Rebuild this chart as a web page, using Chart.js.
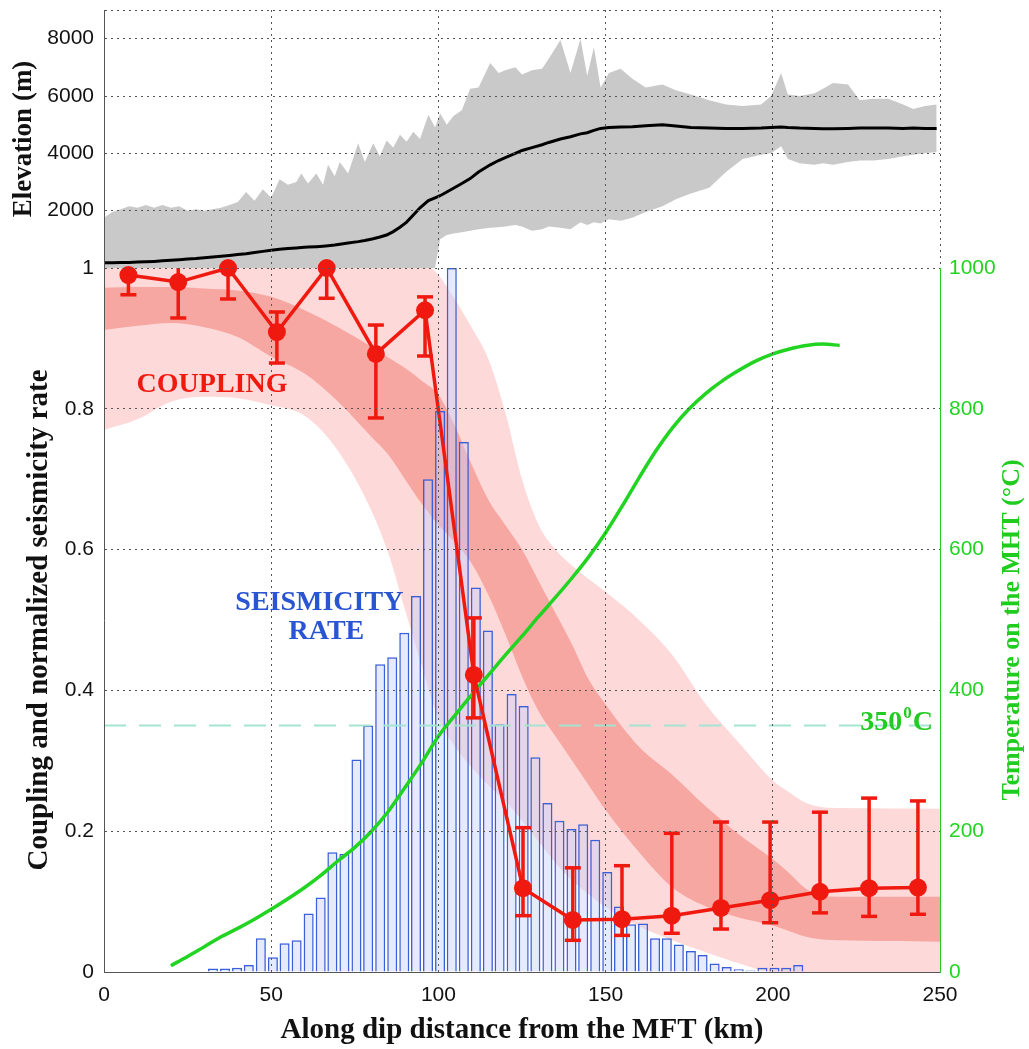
<!DOCTYPE html>
<html>
<head>
<meta charset="utf-8">
<title>Coupling, seismicity and temperature along dip</title>
<script src="https://cdn.jsdelivr.net/npm/chart.js@4.4.1/dist/chart.umd.min.js"></script>
<style>
  html, body { margin: 0; padding: 0; background: #fff; }
  #wrap { position: relative; width: 1029px; height: 1049px; }
  #wrap canvas { position: absolute; left: 0; top: 0; }
  #mainChart { z-index: 2; }
</style>
</head>
<body>
<div id="wrap">
  <canvas id="elevChart" width="1029" height="268"></canvas>
  <canvas id="mainChart" width="1029" height="1049"></canvas>
</div>
<script>
// ---- top panel: topography across the range (m)
const elevDist = [0, 2.5, 5, 7.5, 10, 12.5, 15, 17.5, 20, 22.5, 25, 27.5, 30, 32.5, 35, 37.5, 40, 42.5, 45, 47.5,
  50, 52.5, 55, 57.5, 59, 61, 63.5, 65.5, 67, 69, 70.5, 73, 76, 78, 80.5, 82.5, 84.5, 86.5, 88.5, 90.5,
  92.5, 94.5, 97, 99, 100.5, 102.5, 104.5, 107, 109.5, 112, 115.5, 118, 120, 123, 125, 128, 131, 133, 136.5, 139.5,
  142.5, 144.5, 146.5, 148.5, 151, 154.5, 158, 162, 167, 171, 175.5, 181, 186, 191, 196.5, 199.5, 202.5, 204.5, 208, 212.5,
  215, 218, 222.5, 226, 230, 234.5, 239, 242, 245.5, 249];
const elevMax = [1750, 1950, 2050, 2150, 2100, 2200, 2100, 2200, 2100, 2150, 2000, 2050, 2000, 2050, 2100, 2200, 2300, 2650, 2350, 2750,
  2450, 3100, 2900, 3000, 3300, 2950, 3300, 2900, 3600, 3200, 3700, 3300, 4350, 3700, 4350, 3900, 4450, 4200, 4650, 4400,
  4750, 4500, 5350, 4900, 5400, 5000, 5300, 5500, 6250, 6300, 7150, 6800, 6900, 7000, 6750, 6900, 6950, 7300, 7950, 6800,
  8000, 6700, 7700, 6300, 6800, 6950, 6600, 6300, 6400, 6200, 6050, 5850, 5700, 5650, 5700, 6000, 6800, 6050, 6000, 6100,
  6250, 6450, 6400, 5850, 5900, 5900, 5700, 5550, 5650, 5700];
const elevMin = [0, 0, 0, 0, 0, 0, 0, 0, 0, 0, 0, 0, 0, 0, 0, 0, 0, 0, 0, 0,
  0, 0, 0, 0, 0, 0, 0, 0, 0, 0, 0, 0, 0, 0, 0, 0, 0, 0, 0, 0,
  0, 0, 0, 0, 1000, 1150, 1200, 1250, 1300, 1350, 1400, 1420, 1450, 1500, 1450, 1300, 1350, 1450, 1400, 1350,
  1600, 1500, 1600, 1550, 1700, 1650, 1750, 1950, 2150, 2400, 2600, 2800, 3350, 3800, 3950, 4000, 4250, 3800, 3650, 3600,
  3650, 3600, 3700, 3750, 3750, 3800, 3900, 3950, 4000, 4050];
const elevMean = [180, 185, 190, 195, 205, 215, 230, 250, 270, 290, 310, 330, 360, 385, 410, 440, 470, 500, 540, 580,
  620, 650, 680, 700, 715, 730, 745, 760, 775, 800, 830, 870, 920, 960, 1020, 1080, 1150, 1270, 1420, 1600,
  1850, 2100, 2350, 2450, 2520, 2650, 2780, 2950, 3120, 3350, 3600, 3750, 3850, 4000, 4100, 4200, 4300, 4380, 4500, 4580,
  4680, 4720, 4800, 4870, 4900, 4920, 4930, 4960, 5000, 4950, 4900, 4880, 4870, 4870, 4880, 4900, 4920, 4900, 4880, 4870,
  4860, 4860, 4870, 4880, 4880, 4880, 4870, 4880, 4870, 4870];
const elevTicks = [0, 2000, 4000, 6000, 8000, 9000];

// ---- coupling (binned) with error bars
const couplingDist = [7.3, 22.2, 37.1, 51.7, 66.6, 81.3, 96.0, 110.6, 125.3, 140.2, 154.9, 169.8, 184.5, 199.2, 214.1, 228.8, 243.4];
const coupling = [0.99, 0.98, 1.0, 0.909, 1.0, 0.878, 0.94, 0.422, 0.119, 0.074, 0.075, 0.08, 0.091, 0.102, 0.114, 0.119, 0.12];
const couplingLow = [0.962, 0.929, 0.956, 0.865, 0.957, 0.787, 0.875, 0.361, 0.08, 0.045, 0.052, 0.055, 0.061, 0.07, 0.084, 0.079, 0.082];
const couplingHigh = [1.03, 1.03, 1.04, 0.9375, 1.04, 0.919, 0.959, 0.503, 0.205, 0.148, 0.151, 0.197, 0.213, 0.213, 0.227, 0.247, 0.243];

// ---- coupling model envelopes (outer = light, inner = dark)
const bandDist = [0, 10, 20, 30, 40, 50, 60, 70, 80, 85, 90, 95, 100, 105, 110, 115, 120, 125, 130, 135, 140, 145, 150,
  160, 170, 180, 190, 200, 205, 210, 215, 220, 250];
const outerTop = [1.02, 1.02, 1.02, 1.02, 1.02, 1.02, 1.02, 1.02, 1.02, 1.02, 1.02, 1.01, 0.99, 0.955, 0.915, 0.87, 0.795, 0.70, 0.635, 0.60, 0.577, 0.558, 0.54,
  0.50, 0.45, 0.38, 0.325, 0.272, 0.255, 0.24, 0.234, 0.233, 0.232];
const outerBottom = [0.77, 0.785, 0.81, 0.817, 0.815, 0.805, 0.79, 0.74, 0.655, 0.595, 0.515, 0.435, 0.36, 0.32, 0.29, 0.265, 0.243, 0.215, 0.185, 0.155, 0.13, 0.11, 0.092,
  0.065, 0.045, 0.028, 0.012, 0, 0, 0, 0, 0, 0];
const innerTop = [0.972, 0.973, 0.973, 0.971, 0.968, 0.959, 0.94, 0.916, 0.888, 0.873, 0.858, 0.84, 0.82, 0.775, 0.72, 0.67, 0.635, 0.60, 0.555, 0.51, 0.465, 0.415, 0.38,
  0.32, 0.28, 0.235, 0.195, 0.16, 0.14, 0.118, 0.108, 0.107, 0.107];
const innerBottom = [0.912, 0.918, 0.922, 0.916, 0.902, 0.874, 0.85, 0.81, 0.76, 0.735, 0.70, 0.665, 0.635, 0.61, 0.58, 0.535, 0.48, 0.42, 0.37, 0.335, 0.30, 0.265, 0.23,
  0.17, 0.12, 0.093, 0.077, 0.066, 0.058, 0.05, 0.046, 0.045, 0.043];

// ---- normalized seismicity rate histogram (bin centres, km)
const seismDist = [32.6, 36.2, 39.8, 43.3, 46.9, 50.5, 54.0, 57.6, 61.2, 64.8, 68.3, 71.9, 75.5, 79.0, 82.6, 86.2, 89.8, 93.3, 96.9, 100.5,
  104.0, 107.6, 111.2, 114.8, 118.3, 121.9, 125.5, 129.0, 132.6, 136.2, 139.8, 143.3, 146.9, 150.5, 154.0, 157.6, 161.2, 164.8, 168.3, 171.9,
  175.5, 179.0, 182.6, 186.2, 189.8, 193.3, 196.9, 200.5, 204.0, 207.6];
const seismRate = [0.005, 0.005, 0.006, 0.010, 0.048, 0.021, 0.041, 0.045, 0.083, 0.106,
  0.170, 0.168, 0.302, 0.350, 0.437, 0.447, 0.482, 0.534, 0.700, 0.797,
  1.000, 0.753, 0.546, 0.485, 0.352, 0.395, 0.378, 0.305, 0.240, 0.215,
  0.203, 0.210, 0.188, 0.142, 0.093, 0.068, 0.069, 0.048, 0.048, 0.039,
  0.030, 0.024, 0.012, 0.007, 0.004, 0.002, 0.006, 0.006, 0.006, 0.010];

// ---- temperature on the MHT (deg C)
const tempDist = [20, 25, 30, 35, 40, 45, 50, 55, 60, 65, 70, 75, 80, 85, 90, 95, 100, 105, 110, 115, 120,
  125, 130, 135, 140, 145, 150, 155, 160, 165, 170, 175, 180, 185, 190, 195, 200, 205, 210, 215, 220];
const temperature = [9, 22, 36, 50, 62, 75, 89, 104, 120, 138, 158, 177, 200, 228, 262, 297, 335, 365, 394, 422, 450,
  477, 505, 532, 560, 590, 624, 662, 702, 740, 773, 800, 822, 840, 855, 868, 878, 885, 890, 892, 890];
const isotherm = 350;

const RED = '#f0190f';
const GREEN = '#22d422';
const BLUE = '#2a55d2';
const SERIF = '"Liberation Serif", "Times New Roman", serif';
const SANS = '"Liberation Sans", Arial, sans-serif';

const pts = (xs, ys) => xs.map((x, i) => ({ x, y: ys[i] }));

const tickFont = { family: SANS, size: 21 };
const dotted = { display: true, color: '#555', width: 1, dash: [2, 4], z: 1 };
const gridOpts = { color: '#555', lineWidth: 1, drawTicks: false, z: 1 };

// keeps the plot frame where it is: no extra room for half labels at the ends
const noOverflow = s => { s.paddingTop = 0; s.paddingBottom = 0; s.paddingLeft = 0; s.paddingRight = 0; };

// ---------------- top panel ----------------
new Chart(document.getElementById('elevChart'), {
  type: 'line',
  data: {
    datasets: [
      { data: pts(elevDist, elevMax), fill: '+1', backgroundColor: '#c9c9c9', borderColor: 'transparent',
        borderWidth: 0, pointRadius: 0, order: 2 },
      { data: pts(elevDist, elevMin), fill: false, borderColor: 'transparent', borderWidth: 0, pointRadius: 0, order: 3 },
      { data: pts(elevDist, elevMean), borderColor: '#000', borderWidth: 3, pointRadius: 0, order: 0 },
    ]
  },
  options: {
    responsive: false,
    animation: false,
    layout: { padding: { top: 10, right: 89, bottom: 0, left: 0 } },
    plugins: { legend: { display: false }, tooltip: { enabled: false } },
    scales: {
      x: {
        type: 'linear', min: 0, max: 250,
        ticks: { display: false, stepSize: 50 },
        grid: gridOpts, border: dotted,
        afterFit: s => { s.height = 0; noOverflow(s); }
      },
      y: {
        min: 0, max: 9000,
        afterBuildTicks: s => { s.ticks = elevTicks.map(v => ({ value: v })); },
        ticks: { font: tickFont, color: '#111', padding: 10,
          callback: v => (v === 0 || v === 9000) ? '' : String(v) },
        grid: gridOpts, border: dotted,
        title: { display: true, text: 'Elevation (m)', color: '#111',
          font: { family: SERIF, size: 27, weight: 'bold' }, padding: { top: 8 } },
        afterFit: s => { s.width = 104; noOverflow(s); }
      }
    }
  }
});

// ---------------- bottom panel ----------------
const errorBars = couplingDist.flatMap((x, i) => [
  { x, y: couplingLow[i] }, { x, y: couplingHigh[i] }, { x, y: null }
]);

const annotations = {
  id: 'annotations',
  afterDraw(chart) {
    const { ctx, chartArea, scales: { x, y } } = chart;
    ctx.save();
    ctx.textAlign = 'center';
    ctx.textBaseline = 'middle';
    ctx.font = `bold 28px ${SERIF}`;
    ctx.fillStyle = RED;
    ctx.fillText('COUPLING', x.getPixelForValue(32.3), y.getPixelForValue(0.834));
    ctx.fillStyle = BLUE;
    ctx.fillText('SEISMICITY', x.getPixelForValue(64.4), y.getPixelForValue(0.524));
    ctx.fillText('RATE', x.getPixelForValue(66.5), y.getPixelForValue(0.483));

    // 350 degC label, right aligned above the isotherm
    ctx.fillStyle = '#1fcc1f';
    ctx.textAlign = 'left';
    ctx.textBaseline = 'alphabetic';
    const big = `bold 28px ${SERIF}`, small = `bold 17px ${SERIF}`;
    ctx.font = big;
    const w1 = ctx.measureText('350').width, w3 = ctx.measureText('C').width;
    ctx.font = small;
    const w2 = ctx.measureText('0').width + 2;
    const xEnd = x.getPixelForValue(247.9);
    const base = y.getPixelForValue(0.358) + 10;
    let cx = xEnd - (w1 + w2 + w3);
    ctx.font = big; ctx.fillText('350', cx, base); cx += w1;
    ctx.font = small; ctx.fillText('0', cx + 1, base - 12); cx += w2;
    ctx.font = big; ctx.fillText('C', cx, base);

    // right axis title, reads bottom-to-top like the left one
    ctx.translate(1012, (chartArea.top + chartArea.bottom) / 2 + 10);
    ctx.rotate(-Math.PI / 2);
    ctx.textAlign = 'center';
    ctx.textBaseline = 'middle';
    ctx.font = `bold 26px ${SERIF}`;
    ctx.fillStyle = '#1fcc1f';
    ctx.fillText('Temperature on the MHT (°C)', 0, 0);
    ctx.restore();
  }
};

new Chart(document.getElementById('mainChart'), {
  type: 'line',
  data: {
    datasets: [
      { label: 'coupling', data: pts(couplingDist, coupling), borderColor: RED, borderWidth: 3.5,
        pointRadius: 9, pointBackgroundColor: RED, pointBorderWidth: 0, clip: false, order: 0 },
      { label: 'error', data: errorBars, borderColor: RED, borderWidth: 3.5, spanGaps: false,
        pointStyle: 'line', pointRadius: 8, pointBorderWidth: 3.5, pointBorderColor: RED, order: 1 },
      { label: 'temperature', yAxisID: 'yT', data: pts(tempDist, temperature), borderColor: GREEN, borderWidth: 3.5,
        pointRadius: 0, cubicInterpolationMode: 'monotone', order: 2 },
      { label: '350', yAxisID: 'yT', data: [{ x: 0, y: isotherm }, { x: 250, y: isotherm }], borderColor: '#a6e4d2',
        borderWidth: 2, borderDash: [22, 13], pointRadius: 0, order: 3 },
      { type: 'bar', label: 'seismicity', data: pts(seismDist, seismRate), backgroundColor: 'rgba(200, 208, 250, 0.45)',
        borderColor: '#3b5fd9', borderWidth: 1.5, barPercentage: 0.86, categoryPercentage: 1, order: 4 },
      { label: 'innerTop', data: pts(bandDist, innerTop), fill: '+1', backgroundColor: '#f7a7a1',
        borderColor: 'transparent', borderWidth: 0, pointRadius: 0, cubicInterpolationMode: 'monotone', order: 5 },
      { label: 'innerBottom', data: pts(bandDist, innerBottom), fill: false,
        borderColor: 'transparent', borderWidth: 0, pointRadius: 0, cubicInterpolationMode: 'monotone', order: 5 },
      { label: 'outerTop', data: pts(bandDist, outerTop), fill: '+1', backgroundColor: '#fdd9d9',
        borderColor: 'transparent', borderWidth: 0, pointRadius: 0, cubicInterpolationMode: 'monotone', order: 6 },
      { label: 'outerBottom', data: pts(bandDist, outerBottom), fill: false,
        borderColor: 'transparent', borderWidth: 0, pointRadius: 0, cubicInterpolationMode: 'monotone', order: 6 },
    ]
  },
  options: {
    responsive: false,
    animation: false,
    layout: { padding: { top: 268, right: 0, bottom: 0, left: 0 } },
    plugins: { legend: { display: false }, tooltip: { enabled: false } },
    scales: {
      x: {
        type: 'linear', min: 0, max: 250, offset: false,
        ticks: { stepSize: 50, font: tickFont, color: '#111', padding: 11 },
        grid: { ...gridOpts, offset: false }, border: dotted,
        title: { display: true, text: 'Along dip distance from the MFT (km)', color: '#111',
          font: { family: SERIF, size: 29, weight: 'bold' }, padding: { bottom: 1 } },
        afterFit: s => { s.height = 77; }
      },
      y: {
        min: 0, max: 1,
        ticks: { stepSize: 0.2, font: tickFont, color: '#111', padding: 10,
          callback: v => String(Math.round(v * 10) / 10) },
        grid: gridOpts, border: dotted,
        title: { display: true, text: 'Coupling and normalized seismicity rate', color: '#111',
          font: { family: SERIF, size: 29, weight: 'bold' }, padding: { top: 22 } },
        afterFit: s => { s.width = 104; }
      },
      yT: {
        position: 'right', min: 0, max: 1000,
        ticks: { stepSize: 200, font: tickFont, color: '#22d422', padding: 9, callback: v => String(v) },
        grid: { drawOnChartArea: false, drawTicks: false },
        border: { display: true, color: '#22cc22', dash: [2, 4], z: 1 },
        afterFit: s => { s.width = 89; }
      }
    }
  },
  plugins: [annotations]
});
</script>
</body>
</html>
